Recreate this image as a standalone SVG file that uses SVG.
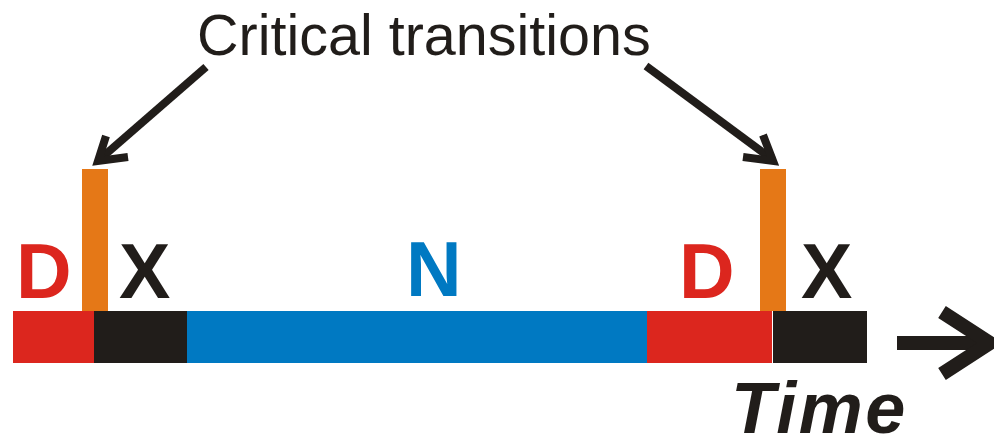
<svg xmlns="http://www.w3.org/2000/svg" width="994" height="437" viewBox="0 0 994 437">
<style>
.lbl{font-family:"Liberation Sans",Arial,sans-serif;font-weight:bold;font-size:77px}
.ln{stroke:#211d1a;fill:none;stroke-width:8;stroke-linecap:butt;stroke-linejoin:miter}
</style>
<rect width="994" height="437" fill="#fff"/>
<g id="title"><text x="197" y="55" font-family="Liberation Sans,Arial,sans-serif" font-size="57.5" fill="#211d1a">Critical transitions</text></g>
<g id="bar">
<rect x="13" y="311" width="81" height="52" fill="#dc261e"/>
<rect x="94" y="311" width="93" height="52" fill="#211d1a"/>
<rect x="187" y="311" width="460" height="52" fill="#0079c2"/>
<rect x="647" y="311" width="125" height="52" fill="#dc261e"/>
<rect x="773" y="311" width="94" height="52" fill="#211d1a"/>
</g>
<g id="t1"><rect x="82" y="169" width="26" height="142" fill="#e57817"/></g>
<g id="t2"><rect x="760" y="169" width="26" height="142" fill="#e57817"/></g>
<g id="labels">
<text class="lbl" x="16" y="298" fill="#dc261e">D</text>
<text class="lbl" x="119" y="298" fill="#211d1a">X</text>
<text class="lbl" x="406" y="296" fill="#0079c2">N</text>
<text class="lbl" x="679" y="298" fill="#dc261e">D</text>
<text class="lbl" x="801" y="298" fill="#211d1a">X</text>
</g>
<g id="connectors">
<line class="ln" x1="206" y1="67" x2="99" y2="160"/>
<polyline class="ln" points="106,136 98,161 128,157"/>
<line class="ln" x1="646" y1="66" x2="773" y2="160"/>
<polyline class="ln" points="763,135 773,161 743,157"/>
<line x1="897" y1="343" x2="990" y2="343" stroke="#211d1a" stroke-width="14"/>
<polyline points="942,312 990,343 942,374" fill="none" stroke="#211d1a" stroke-width="14" stroke-linejoin="miter"/>
</g>
<g id="time"><text x="731" y="433" font-family="Liberation Sans,Arial,sans-serif" font-weight="bold" font-style="italic" font-size="72" letter-spacing="2.5" fill="#211d1a">Time</text></g>
</svg>
